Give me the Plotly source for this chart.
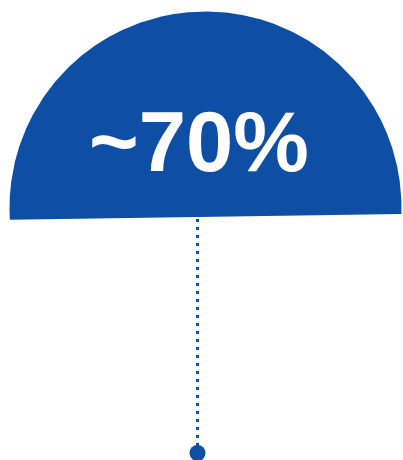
import numpy as np
import plotly.graph_objects as go

# data
value_label = ["~70%"]
share = [70]

W, H = 403, 460
blue = "#0E4FA5"

# dome geometry (decorative)
cx, cy, R = 205.5, 207.5, 196.0
chord_left = (10.0, 220.0)
chord_right = (401.0, 214.0)

def chord_y(x):
    return chord_left[1] + (chord_right[1] - chord_left[1]) * (x - chord_left[0]) / (chord_right[0] - chord_left[0])

th = np.radians(np.linspace(-90, 270, 3000))
xs = cx + R * np.cos(th)
ys = cy - R * np.sin(th)
mask = ys <= chord_y(xs)
xs, ys = xs[mask], ys[mask]

fig = go.Figure()
fig.add_trace(go.Scatter(x=xs, y=ys, mode="lines", fill="toself", fillcolor=blue,
                         line=dict(color=blue, width=0), hoverinfo="skip", showlegend=False))

stem_x = 197.5
fig.add_trace(go.Scatter(x=[stem_x, stem_x], y=[219, 447], mode="lines",
                         line=dict(color=blue, width=3, dash="3px,5px"),
                         hoverinfo="skip", showlegend=False))
fig.add_trace(go.Scatter(x=[stem_x], y=[453], mode="markers",
                         marker=dict(color=blue, size=16, line=dict(width=0)),
                         hoverinfo="skip", showlegend=False))

fig.add_annotation(x=199, y=141, xref="x", yref="y", text="<b>" + value_label[0] + "</b>",
                   showarrow=False, xanchor="center", yanchor="middle",
                   font=dict(family="Liberation Sans, Arial, sans-serif", size=85, color="white"))

fig.update_layout(width=W, height=H, margin=dict(l=0, r=0, t=0, b=0),
                  paper_bgcolor="white", plot_bgcolor="white",
                  xaxis=dict(range=[0, W], visible=False, fixedrange=True),
                  yaxis=dict(range=[H, 0], visible=False, fixedrange=True))
fig.write_html("out.html", config={"displayModeBar": False},
               post_script="document.body.style.margin='0';document.body.style.padding='0';")
